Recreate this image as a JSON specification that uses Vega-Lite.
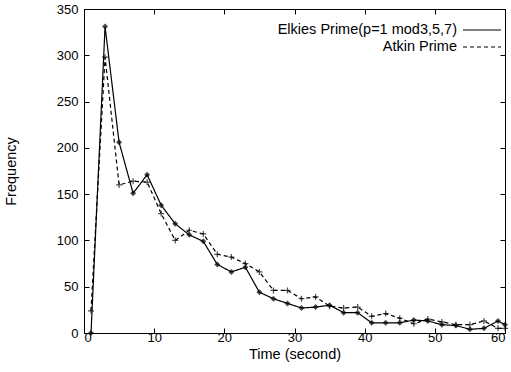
{
  "$schema": "https://vega.github.io/schema/vega-lite/v6.json",
  "width": 421,
  "height": 324,
  "autosize": "none",
  "padding": {"left": 84, "top": 9, "right": 6, "bottom": 39},
  "background": "white",
  "config": {
    "view": {"stroke": "black", "strokeWidth": 1},
    "font": "Liberation Sans",
    "axis": {"grid": false, "domainColor": "black", "tickColor": "black", "labelColor": "black", "titleColor": "black", "labelFont": "Liberation Sans", "titleFont": "Liberation Sans", "labelFontSize": 13, "titleFontSize": 14.5, "titleFontWeight": "normal", "tickSize": -5}
  },
  "data": {"values": [
    {"t": 1, "f": 0, "s": "Elkies Prime(p=1 mod3,5,7)"},
    {"t": 3, "f": 331, "s": "Elkies Prime(p=1 mod3,5,7)"},
    {"t": 5, "f": 206, "s": "Elkies Prime(p=1 mod3,5,7)"},
    {"t": 7, "f": 151, "s": "Elkies Prime(p=1 mod3,5,7)"},
    {"t": 9, "f": 171, "s": "Elkies Prime(p=1 mod3,5,7)"},
    {"t": 11, "f": 138, "s": "Elkies Prime(p=1 mod3,5,7)"},
    {"t": 13, "f": 118, "s": "Elkies Prime(p=1 mod3,5,7)"},
    {"t": 15, "f": 106, "s": "Elkies Prime(p=1 mod3,5,7)"},
    {"t": 17, "f": 99, "s": "Elkies Prime(p=1 mod3,5,7)"},
    {"t": 19, "f": 74, "s": "Elkies Prime(p=1 mod3,5,7)"},
    {"t": 21, "f": 66, "s": "Elkies Prime(p=1 mod3,5,7)"},
    {"t": 23, "f": 71, "s": "Elkies Prime(p=1 mod3,5,7)"},
    {"t": 25, "f": 44, "s": "Elkies Prime(p=1 mod3,5,7)"},
    {"t": 27, "f": 37, "s": "Elkies Prime(p=1 mod3,5,7)"},
    {"t": 29, "f": 32, "s": "Elkies Prime(p=1 mod3,5,7)"},
    {"t": 31, "f": 27, "s": "Elkies Prime(p=1 mod3,5,7)"},
    {"t": 33, "f": 28, "s": "Elkies Prime(p=1 mod3,5,7)"},
    {"t": 35, "f": 30, "s": "Elkies Prime(p=1 mod3,5,7)"},
    {"t": 37, "f": 22, "s": "Elkies Prime(p=1 mod3,5,7)"},
    {"t": 39, "f": 22, "s": "Elkies Prime(p=1 mod3,5,7)"},
    {"t": 41, "f": 11, "s": "Elkies Prime(p=1 mod3,5,7)"},
    {"t": 43, "f": 11, "s": "Elkies Prime(p=1 mod3,5,7)"},
    {"t": 45, "f": 11, "s": "Elkies Prime(p=1 mod3,5,7)"},
    {"t": 47, "f": 14, "s": "Elkies Prime(p=1 mod3,5,7)"},
    {"t": 49, "f": 13, "s": "Elkies Prime(p=1 mod3,5,7)"},
    {"t": 51, "f": 9, "s": "Elkies Prime(p=1 mod3,5,7)"},
    {"t": 53, "f": 8, "s": "Elkies Prime(p=1 mod3,5,7)"},
    {"t": 55, "f": 4, "s": "Elkies Prime(p=1 mod3,5,7)"},
    {"t": 57, "f": 5, "s": "Elkies Prime(p=1 mod3,5,7)"},
    {"t": 59, "f": 13, "s": "Elkies Prime(p=1 mod3,5,7)"},
    {"t": 60, "f": 9, "s": "Elkies Prime(p=1 mod3,5,7)"},
    {"t": 1, "f": 24, "s": "Atkin Prime"},
    {"t": 3, "f": 298, "s": "Atkin Prime"},
    {"t": 5, "f": 160, "s": "Atkin Prime"},
    {"t": 7, "f": 164, "s": "Atkin Prime"},
    {"t": 9, "f": 163, "s": "Atkin Prime"},
    {"t": 11, "f": 129, "s": "Atkin Prime"},
    {"t": 13, "f": 100, "s": "Atkin Prime"},
    {"t": 15, "f": 111, "s": "Atkin Prime"},
    {"t": 17, "f": 107, "s": "Atkin Prime"},
    {"t": 19, "f": 85, "s": "Atkin Prime"},
    {"t": 21, "f": 82, "s": "Atkin Prime"},
    {"t": 23, "f": 75, "s": "Atkin Prime"},
    {"t": 25, "f": 66, "s": "Atkin Prime"},
    {"t": 27, "f": 46, "s": "Atkin Prime"},
    {"t": 29, "f": 46, "s": "Atkin Prime"},
    {"t": 31, "f": 37, "s": "Atkin Prime"},
    {"t": 33, "f": 39, "s": "Atkin Prime"},
    {"t": 35, "f": 29, "s": "Atkin Prime"},
    {"t": 37, "f": 27, "s": "Atkin Prime"},
    {"t": 39, "f": 28, "s": "Atkin Prime"},
    {"t": 41, "f": 18, "s": "Atkin Prime"},
    {"t": 43, "f": 21, "s": "Atkin Prime"},
    {"t": 45, "f": 16, "s": "Atkin Prime"},
    {"t": 47, "f": 10, "s": "Atkin Prime"},
    {"t": 49, "f": 15, "s": "Atkin Prime"},
    {"t": 51, "f": 12, "s": "Atkin Prime"},
    {"t": 53, "f": 9, "s": "Atkin Prime"},
    {"t": 55, "f": 9, "s": "Atkin Prime"},
    {"t": 57, "f": 13, "s": "Atkin Prime"},
    {"t": 59, "f": 5, "s": "Atkin Prime"},
    {"t": 60, "f": 5, "s": "Atkin Prime"}
  ]},
  "resolve": {"axis": {"x": "independent", "y": "independent"}},
  "layer": [
    {
      "mark": {"type": "line", "color": "black", "strokeWidth": 1.2},
      "encoding": {
        "x": {"field": "t", "type": "quantitative", "scale": {"domain": [0, 60], "nice": false}, "axis": {"title": "Time (second)", "values": [0, 10, 20, 30, 40, 50, 60], "labelPadding": 3, "titlePadding": 3}},
        "y": {"field": "f", "type": "quantitative", "scale": {"domain": [0, 350], "nice": false}, "axis": {"title": "Frequency", "values": [0, 50, 100, 150, 200, 250, 300, 350], "labelPadding": 11, "titlePadding": 38}},
        "strokeDash": {"field": "s", "type": "nominal", "scale": {"domain": ["Elkies Prime(p=1 mod3,5,7)", "Atkin Prime"], "range": [[1, 0], [4, 3]]},
          "legend": {"title": null, "orient": "none", "legendX": 387.5, "legendY": 10.5, "symbolType": "M-2,0L2,0", "symbolSize": 361, "symbolStrokeColor": "black", "symbolStrokeWidth": 1.2, "labelAlign": "right", "labelOffset": -35.5, "labelFontSize": 14.5, "labelFont": "Liberation Sans", "labelColor": "black", "rowPadding": -1, "labelLimit": 300}}
      }
    },
    {
      "transform": [{"filter": "datum.s === 'Elkies Prime(p=1 mod3,5,7)'"}],
      "mark": {"type": "point", "filled": true, "shape": "diamond", "size": 36, "color": "black"},
      "encoding": {
        "x": {"field": "t", "type": "quantitative", "axis": {"orient": "top", "labels": false, "title": null, "values": [0, 10, 20, 30, 40, 50, 60]}},
        "y": {"field": "f", "type": "quantitative", "axis": {"orient": "right", "labels": false, "title": null, "values": [0, 50, 100, 150, 200, 250, 300, 350]}}
      }
    },
    {
      "transform": [{"filter": "datum.s === 'Atkin Prime'"}],
      "mark": {"type": "point", "filled": false, "shape": "M-1,0L1,0M0,-1L0,1", "size": 36, "strokeWidth": 1.2, "color": "black"},
      "encoding": {
        "x": {"field": "t", "type": "quantitative", "axis": null},
        "y": {"field": "f", "type": "quantitative", "axis": null}
      }
    }
  ]
}
